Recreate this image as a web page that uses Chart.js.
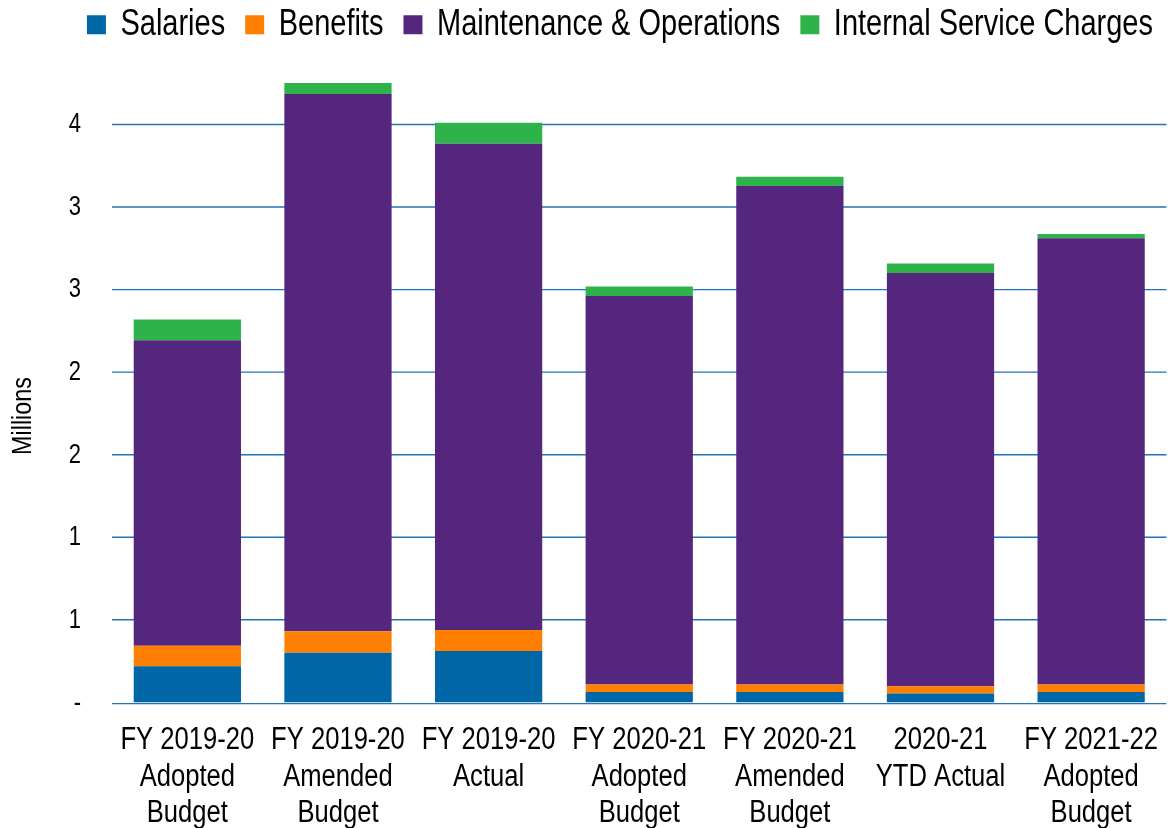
<!DOCTYPE html>
<html>
<head>
<meta charset="utf-8">
<script src="https://cdn.jsdelivr.net/npm/chart.js@4/dist/chart.umd.min.js"></script>
<style>
  html, body { margin: 0; padding: 0; background: #ffffff; overflow: hidden; }
  #c { display: block; }
</style>
</head>
<body>
<canvas id="c" width="1173" height="662"></canvas>
<script>
// ---- data (millions) ----
const categories = [
  ["FY 2019-20", "Adopted", "Budget"],
  ["FY 2019-20", "Amended", "Budget"],
  ["FY 2019-20", "Actual"],
  ["FY 2020-21", "Adopted", "Budget"],
  ["FY 2020-21", "Amended", "Budget"],
  ["2020-21", "YTD Actual"],
  ["FY 2021-22", "Adopted", "Budget"]
];
const seriesNames = ["Salaries", "Benefits", "Maintenance & Operations", "Internal Service Charges"];
const salaries    = [0.223, 0.304, 0.314, 0.066, 0.066, 0.057, 0.066];
const benefits    = [0.123, 0.130, 0.127, 0.046, 0.046, 0.044, 0.046];
const maintenance = [1.848, 3.249, 2.941, 2.349, 3.015, 2.500, 2.698];
const internal    = [0.125, 0.066, 0.127, 0.057, 0.056, 0.057, 0.026];
const yAxisTitle = "Millions";

const colors = ["#0066A6", "#FF8000", "#54267E", "#2EB34B"];

// The reference uses a tall, condensed typeface; emulate it by drawing the
// whole chart with a vertical stretch (logical height 662 -> 828 px).
const W = 1173, H_LOGICAL = 662, H_REAL = 828;
const SY = H_REAL / H_LOGICAL;
const FAMILY = "'Liberation Sans', Arial, sans-serif";

Chart.defaults.font.family = FAMILY;
Chart.defaults.color = '#000000';

// y-axis title drawn as condensed rotated text, placed like the reference
const yTitlePlugin = {
  id: 'yTitle',
  afterDraw(chart) {
    const ctx = chart.ctx;
    ctx.save();
    ctx.setTransform(1, 0, 0, 1, 0, 0);
    ctx.translate(23, 416);
    ctx.rotate(-Math.PI / 2);
    ctx.scale(0.836, 1);
    ctx.font = '28px ' + FAMILY;
    ctx.fillStyle = '#000000';
    ctx.textAlign = 'center';
    ctx.textBaseline = 'middle';
    ctx.fillText(yAxisTitle, 0, 0);
    ctx.restore();
  }
};

const datasets = [salaries, benefits, maintenance, internal].map((d, i) => ({
  label: seriesNames[i],
  data: d,
  backgroundColor: colors[i],
  borderWidth: 0,
  barPercentage: 0.712,
  categoryPercentage: 1.0
}));

const canvas = document.getElementById('c');
const chart = new Chart(canvas, {
  type: 'bar',
  data: { labels: categories, datasets },
  plugins: [yTitlePlugin],
  options: {
    responsive: false,
    maintainAspectRatio: false,
    devicePixelRatio: 1,
    animation: false,
    layout: { padding: { top: -16, left: 37.8, right: 0, bottom: -18 } },
    plugins: {
      legend: {
        position: 'top',
        align: 'end',
        labels: {
          boxWidth: 19,
          boxHeight: 15.2,
          padding: 20,
          font: { size: 29 },
          color: '#000000'
        }
      },
      tooltip: { enabled: false }
    },
    scales: {
      x: {
        stacked: true,
        grid: { display: false, drawTicks: false },
        border: { display: false },
        ticks: {
          maxRotation: 0,
          minRotation: 0,
          autoSkip: false,
          padding: 15,
          font: { size: 25.6, lineHeight: 1.145 },
          color: '#000000'
        }
      },
      y: {
        stacked: true,
        min: 0,
        max: 3.917,
        afterBuildTicks: (axis) => {
          axis.ticks = axis.ticks.filter(t => Math.abs(t.value * 2 - Math.round(t.value * 2)) < 1e-6);
        },
        grid: { color: '#2472B8', lineWidth: 1.1, drawTicks: false },
        border: { display: false },
        ticks: {
          stepSize: 0.5,
          padding: 31,
          font: { size: 22 },
          color: '#000000',
          callback: (v) => v === 0 ? '-' : String(Math.round(v))
        },
        title: { display: false, text: yAxisTitle }
      }
    }
  }
});

// apply the vertical stretch with a crisp full-resolution bitmap
canvas.height = H_REAL;
canvas.style.width = W + 'px';
canvas.style.height = H_REAL + 'px';
chart.ctx.setTransform(1, 0, 0, SY, 0, 0);
chart.draw();
</script>
</body>
</html>
